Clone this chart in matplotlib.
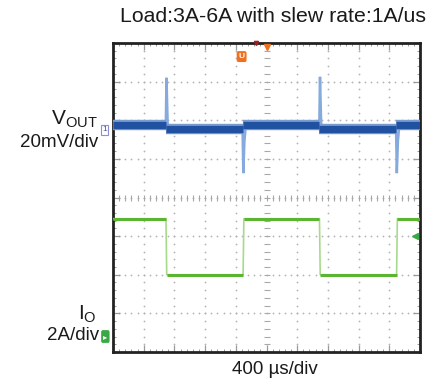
import numpy as np
import matplotlib
matplotlib.use("Agg")
import matplotlib.pyplot as plt

plt.rcParams["font.family"] = ["Liberation Sans", "DejaVu Sans"]
plt.rcParams["mathtext.fontset"] = "custom"
plt.rcParams["mathtext.rm"] = "Liberation Sans"
plt.rcParams["mathtext.it"] = "Liberation Sans"

# ---- scope settings ----
time_per_div = 400          # µs/div
vout_per_div = 20           # mV/div
io_per_div = 2              # A/div
n_hdiv, n_vdiv = 10, 8
ch1_offset = 5.75           # divisions from bottom (marker 1)
ch2_offset = 0.40           # divisions from bottom (marker 2)

# ---- VOUT trace (mV, AC coupled) ----
vout_level_t = [0, 690, 735, 1690, 1760, 2690, 2735, 3690, 3760, 4000]
vout_levels = [2.7, 0.6, 2.7, 0.6, 2.7]           # flat level between events
vout_edge_t = [0, 688, 697, 712, 735,
               1688, 1698, 1712, 1730, 1760,
               2688, 2697, 2712, 2735,
               3688, 3698, 3712, 3730, 3760, 4000]
vout_edge_v = [2.7, 2.7, 27.0, 3.5, 0.6,
               0.6, -22.4, -6.0, 2.2, 2.7,
               2.7, 27.5, 3.5, 0.6,
               0.6, -22.4, -6.0, 2.2, 2.7, 2.7]

# ---- IO trace (A) ----
io_t = [0, 690, 700, 1695, 1705, 2690, 2700, 3695, 3705, 4000]
io_a = [6.1, 6.1, 3.2, 3.2, 6.1, 6.1, 3.2, 3.2, 6.1, 6.1]
trigger_level = 5.2         # A

fig = plt.figure(figsize=(4.46, 3.81), dpi=100)
ax = fig.add_axes([113 / 446, 29 / 381, 307 / 446, 309 / 381])
ax.set_xlim(0, n_hdiv * time_per_div)
ax.set_ylim(0, n_vdiv)

# graticule dots
xmin = np.arange(0, n_hdiv * time_per_div + 1, time_per_div / 5)
ymin = np.arange(0, n_vdiv + 0.01, 0.2)
grid_c = "#b4b4b4"
for k in range(1, n_hdiv):
    if k == n_hdiv // 2:
        continue
    ax.plot(np.full_like(ymin, k * time_per_div), ymin, ls="none", marker="o",
            ms=1.3, mec="none", mfc=grid_c, zorder=1)
for k in range(1, n_vdiv):
    if k == n_vdiv // 2:
        continue
    ax.plot(xmin, np.full_like(xmin, k), ls="none", marker="o",
            ms=1.3, mec="none", mfc=grid_c, zorder=1)
# centre cross with tick marks
cx, cy = n_hdiv // 2 * time_per_div, n_vdiv / 2
ax.plot(xmin, np.full_like(xmin, cy), ls="none", marker="|", ms=4,
        mew=0.8, color="#a8a8a8", zorder=1)
ax.plot(np.full_like(ymin, cx), ymin, ls="none", marker="_", ms=4,
        mew=0.8, color="#a8a8a8", zorder=1)
ax.plot(xmin, np.full_like(xmin, cy), ls="none", marker="o", ms=1.3,
        mec="none", mfc="#a8a8a8", zorder=1)

# border ticks
ax.set_xticks(np.arange(0, n_hdiv * time_per_div + 1, time_per_div))
ax.set_xticks(xmin, minor=True)
ax.set_yticks(np.arange(0, n_vdiv + 1, 1))
ax.set_yticks(ymin, minor=True)
ax.tick_params(which="both", direction="in", top=True, right=True,
               labelbottom=False, labelleft=False, color="#9a9a9a")
ax.tick_params(which="major", length=5, width=0.9)
ax.tick_params(which="minor", length=2.5, width=0.7)
for s in ax.spines.values():
    s.set_linewidth(2.0)
    s.set_color("#222222")

# VOUT: spikes as thin light line, flat levels as thick noisy band
ve_y = ch1_offset + np.array(vout_edge_v) / vout_per_div
ax.plot(vout_edge_t, ve_y, color="#86aadd", lw=1.8, zorder=3,
        solid_joinstyle="miter")
for i, lvl in enumerate(vout_levels):
    t0 = vout_level_t[2 * i] if i == 0 else vout_level_t[2 * i - 1]
    t1 = vout_level_t[2 * i + 1] if i < len(vout_levels) - 1 else vout_level_t[-1]
    y = ch1_offset + lvl / vout_per_div
    ax.plot([t0, t1], [y, y], color="#7a9bd0", lw=7.5, solid_capstyle="butt",
            zorder=4)
    ax.plot([t0, t1], [y, y], color="#2152a1", lw=5.2, solid_capstyle="butt",
            zorder=5)

# IO: light edges, thick levels
io_y = ch2_offset + np.array(io_a) / io_per_div
ax.plot(io_t, io_y, color="#a8da8c", lw=1.2, zorder=3)
for j in range(0, len(io_t) - 1, 2):
    ax.plot(io_t[j:j + 2], io_y[j:j + 2], color="#5cb531", lw=2.2,
            solid_capstyle="butt", zorder=4)

# channel / trigger markers
ax.text(-0.02, ch1_offset, "1", transform=ax.get_yaxis_transform(),
        ha="right", va="center", fontsize=6, color="#3050b0",
        bbox=dict(boxstyle="square,pad=0.15", fc="white", ec="#8f8fd0", lw=0.8),
        clip_on=False)
ax.text(-0.018, ch2_offset, "\u25B8", transform=ax.get_yaxis_transform(),
        ha="right", va="center", fontsize=6, color="white",
        family="DejaVu Sans",
        bbox=dict(boxstyle="round,pad=0.2", fc="#3aa845", ec="#3aa845", lw=0.5),
        clip_on=False)
ax.plot([0.985], [ch2_offset + trigger_level / io_per_div], marker="<",
        ms=5, color="#3aa845", transform=ax.get_yaxis_transform(), zorder=6,
        clip_on=False)
ax.plot([cx], [n_vdiv - 0.1], marker="v", ms=5, color="#f07020", zorder=6,
        clip_on=False)
ax.plot([cx - 0.035 * n_hdiv * time_per_div], [n_vdiv], marker="v", ms=3,
        color="#a02020", zorder=6, clip_on=False)
ax.text(0.419, 0.956, "U", transform=ax.transAxes, ha="center", va="center",
        fontsize=6, color="white", fontweight="bold",
        bbox=dict(boxstyle="round,pad=0.15", fc="#f07020", ec="#f07020"))

# labels
txt_c = "#1a1a1a"
fig.text(273 / 446, 1 - 17 / 381, "Load:3A-6A with slew rate:1A/us",
         ha="center", va="center", fontsize=15.3, color=txt_c)
fig.text(275 / 446, 1 - 370 / 381, "400 \u00b5s/div", ha="center",
         va="center", fontsize=13.5, color=txt_c)
fig.text(98 / 446, 1 - 119 / 381, r"$\mathrm{V_{OUT}}$", ha="right",
         va="center", fontsize=15, color=txt_c)
fig.text(98 / 446, 1 - 143 / 381, "20mV/div", ha="right", va="center",
         fontsize=13.5, color=txt_c)
fig.text(97 / 446, 1 - 314 / 381, r"$\mathrm{I_{O}}$", ha="right",
         va="center", fontsize=15, color=txt_c)
fig.text(99 / 446, 1 - 336 / 381, "2A/div", ha="right", va="center",
         fontsize=13.5, color=txt_c)

fig.savefig("out.png", dpi=100)
